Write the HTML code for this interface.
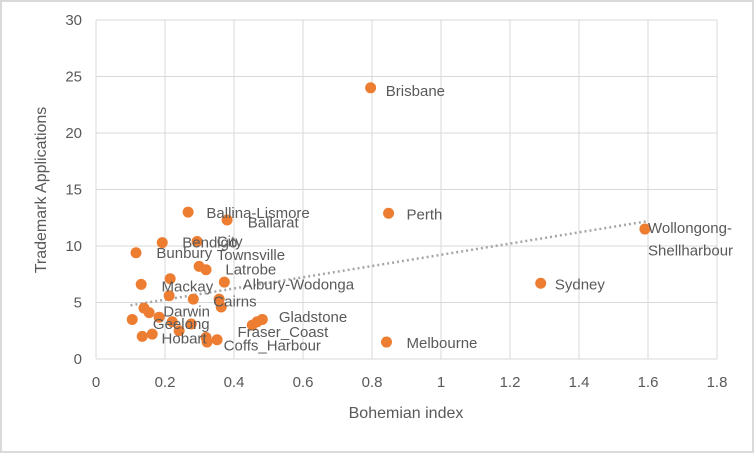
<!DOCTYPE html>
<html><head><meta charset="utf-8"><style>
html,body{margin:0;padding:0;background:#fff}
svg text{font-family:"Liberation Sans",sans-serif;fill:#595959}
</style></head><body>
<svg id="chart" width="754" height="453" xmlns="http://www.w3.org/2000/svg">
<rect x="1" y="1" width="752" height="451" fill="#fff" stroke="#d9d9d9" stroke-width="2"/>
<g id="grid"></g><g id="ticks"></g><g id="trend"></g><g id="pts"></g><g id="lbls"></g>
<text x="406" y="418" font-size="16" text-anchor="middle">Bohemian index</text>
<text transform="translate(46,190) rotate(-90)" font-size="16" text-anchor="middle">Trademark Applications</text>
</svg>
<script>
const xVals=[0.796,0.848,1.591,1.289,0.842,0.267,0.380,0.192,0.293,0.116,0.299,0.319,0.215,0.372,0.131,0.212,0.282,0.357,0.363,0.139,0.154,0.105,0.183,0.276,0.221,0.241,0.134,0.163,0.319,0.322,0.351,0.453,0.467,0.482];
const yVals=[24.0,12.9,11.5,6.7,1.5,13.0,12.3,10.3,10.4,9.4,8.2,7.9,7.1,6.8,6.6,5.6,5.3,5.3,4.6,4.5,4.1,3.5,3.7,3.1,3.3,2.5,2.0,2.2,1.9,1.5,1.7,3.0,3.3,3.5];
const labelText=["Brisbane","Perth","Wollongong-","Shellharbour","Sydney","Melbourne","Ballina-Lismore","Ballarat","Bendigo","City","Bunbury","Townsville","Latrobe","Mackay","Albury-Wodonga","Cairns","Darwin","Gladstone","Geelong","Fraser_Coast","Hobart","Coffs_Harbour"];
const labelX=[0.84,0.9,1.6,1.6,1.33,0.9,0.32,0.44,0.25,0.35,0.175,0.35,0.375,0.19,0.425,0.34,0.195,0.53,0.165,0.41,0.19,0.37];
const labelY=[23.7,12.8,11.6,9.6,6.6,1.4,12.9,12.1,10.3,10.4,9.4,9.2,7.9,6.4,6.6,5.1,4.2,3.7,3.1,2.4,1.8,1.2];
const xTicks=[0,0.2,0.4,0.6,0.8,1,1.2,1.4,1.6,1.8];
const yTicks=[0,5,10,15,20,25,30];
const trendX=[0.1,1.6], trendY=[4.75,12.2];
const sx=v=>96+v*345, sy=v=>359-v*11.3;
const NS="http://www.w3.org/2000/svg";
function mk(p,t,a){const e=document.createElementNS(NS,t);for(const k in a)e.setAttribute(k,a[k]);document.getElementById(p).appendChild(e);return e;}
xTicks.forEach(v=>{
 const l=mk('grid','line',{x1:sx(v),x2:sx(v),y1:sy(30),y2:sy(0),stroke:'#d9d9d9'});
 
 
 const t=mk('ticks','text',{x:sx(v),y:387,'font-size':15,'text-anchor':'middle'});t.textContent=v;
 
 
});
yTicks.forEach(v=>{
 const l=mk('grid','line',{x1:sx(0),x2:sx(1.8),y1:sy(v),y2:sy(v),stroke:'#d9d9d9'});
 
 
 const t=mk('ticks','text',{x:82,y:sy(v)+5,'font-size':15,'text-anchor':'end'});t.textContent=v;
 
 
});
const tl=mk('trend','line',{x1:sx(trendX[0]),y1:sy(trendY[0]),x2:sx(trendX[1]),y2:sy(trendY[1]),stroke:'#a6a6a6','stroke-width':2.5,'stroke-dasharray':'2 3'});


xVals.forEach((v,i)=>{
 const c=mk('pts','circle',{cx:sx(v),cy:sy(yVals[i]),r:5.5,fill:'#ed7d31'});
 
 
});
labelText.forEach((s,i)=>{
 const t=mk('lbls','text',{x:sx(labelX[i]),y:sy(labelY[i])+5,'font-size':15});t.textContent=s;
 
 
});
</script>
</body></html>
